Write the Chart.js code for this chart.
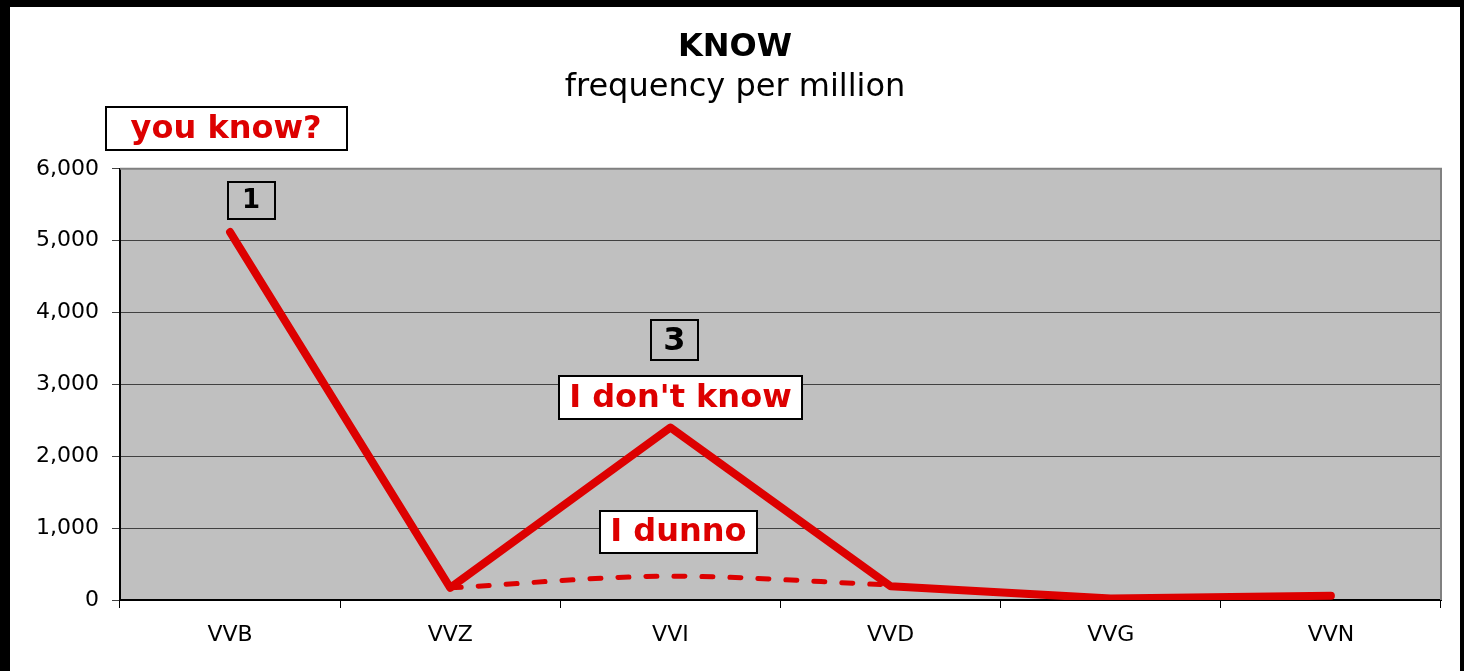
<!DOCTYPE html>
<html>
<head>
<meta charset="utf-8">
<script src="https://cdn.jsdelivr.net/npm/chart.js@4.4.1/dist/chart.umd.min.js"></script>
<style>
  html, body { margin: 0; padding: 0; background: #000; }
  #frame {
    position: absolute; left: 10px; top: 7px;
    width: 1450px; height: 664px; background: #fff;
  }
</style>
</head>
<body>
<div id="frame"><canvas id="knowChart" width="1450" height="664"></canvas></div>
<script>
// chart data
const categories = ['VVB', 'VVZ', 'VVI', 'VVD', 'VVG', 'VVN'];
const iDontKnow = [5120, 170, 2400, 190, 20, 60];
const iDunno = [null, 170, 330, 210, null, null];
const yTicks = [0, 1000, 2000, 3000, 4000, 5000, 6000];

// text boxes: anchored to a category and a value on the y scale
const notes = [
    { text: 'you know?', cat: 0, value: 6563, dx: -4, size: 32, color: '#dd0000', fill: '#ffffff', w: 241, h: 43 },
    { text: '1', cat: 0, value: 5556, dx: 21, size: 26, color: '#000000', fill: null, w: 47, h: 37 },
    { text: '3', cat: 2, value: 3611, dx: 4, size: 32, color: '#000000', fill: null, w: 47, h: 40 },
    { text: "I don't know", cat: 2, value: 2812, dx: 10, size: 32, color: '#dd0000', fill: '#ffffff', w: 243, h: 43 },
    { text: 'I dunno', cat: 2, value: 944, dx: 8, size: 32, color: '#dd0000', fill: '#ffffff', w: 157, h: 42 }
];

const FONT = "'DejaVu Sans', Verdana, sans-serif";

const plotBackground = {
    id: 'plotBackground',
    beforeDraw(chart) {
        const { ctx, chartArea: a } = chart;
        ctx.save();
        ctx.fillStyle = '#c0c0c0';
        ctx.fillRect(a.left, a.top, a.right - a.left, a.bottom - a.top);
        ctx.restore();
    },
    beforeDatasetsDraw(chart) {
        const { ctx, chartArea: a } = chart;
        ctx.save();
        ctx.strokeStyle = '#808080';
        ctx.lineWidth = 2;
        ctx.beginPath();
        ctx.moveTo(a.left, a.top);
        ctx.lineTo(a.right, a.top);
        ctx.lineTo(a.right, a.bottom);
        ctx.stroke();
        ctx.restore();
    }
};

const noteBoxes = {
    id: 'noteBoxes',
    afterDraw(chart) {
        const ctx = chart.ctx;
        const xs = chart.scales.x, ys = chart.scales.y;
        ctx.save();
        notes.forEach(n => {
            const cx = xs.getPixelForValue(n.cat) + n.dx;
            const cy = ys.getPixelForValue(n.value);
            const x0 = Math.round(cx - n.w / 2), y0 = Math.round(cy - n.h / 2);
            if (n.fill) {
                ctx.fillStyle = n.fill;
                ctx.fillRect(x0, y0, n.w, n.h);
            }
            ctx.strokeStyle = '#000';
            ctx.lineWidth = 2;
            ctx.strokeRect(x0, y0, n.w, n.h);
            ctx.fillStyle = n.color;
            ctx.font = 'bold ' + n.size + 'px ' + FONT;
            ctx.textAlign = 'center';
            ctx.textBaseline = 'middle';
            ctx.fillText(n.text, cx, cy + 1);
        });
        ctx.restore();
    }
};

new Chart(document.getElementById('knowChart'), {
    type: 'line',
    data: {
        labels: categories,
        datasets: [
            {
                label: "I don't know",
                data: iDontKnow,
                borderColor: '#dd0000',
                borderWidth: 8,
                borderCapStyle: 'round',
                borderJoinStyle: 'round',
                pointRadius: 0,
                tension: 0
            },
            {
                label: 'I dunno',
                data: iDunno,
                borderColor: '#dd0000',
                borderWidth: 5,
                borderDash: [11, 17],
                borderCapStyle: 'round',
                pointRadius: 0,
                spanGaps: false,
                cubicInterpolationMode: 'monotone',
                tension: 0.4
            }
        ]
    },
    options: {
        responsive: false,
        animation: false,
        devicePixelRatio: 1,
        layout: { padding: 0 },
        plugins: {
            legend: { display: false },
            tooltip: { enabled: false },
            title: {
                display: true,
                text: 'KNOW',
                color: '#000',
                font: { family: FONT, size: 32, weight: 'bold', lineHeight: 1.2 },
                padding: { top: 21, bottom: 0 }
            },
            subtitle: {
                display: true,
                text: 'frequency per million',
                color: '#000',
                font: { family: FONT, size: 32, lineHeight: 1.2 },
                padding: { top: 2, bottom: 62 }
            }
        },
        scales: {
            x: {
                type: 'category',
                offset: true,
                grid: { offset: true, drawOnChartArea: false, tickLength: 8, color: '#000', lineWidth: 1 },
                border: { color: '#000', width: 2 },
                ticks: { color: '#000', padding: 14, font: { family: FONT, size: 22 } },
                afterFit(scale) { scale.height = 71; }
            },
            y: {
                min: 0,
                max: 6000,
                afterBuildTicks(scale) { scale.ticks = yTicks.map(v => ({ value: v })); },
                grid: { color: '#404040', tickLength: 8, lineWidth: 1 },
                border: { color: '#000', width: 2 },
                ticks: {
                    color: '#000',
                    padding: 13,
                    font: { family: FONT, size: 22 },
                    callback: v => v.toLocaleString('en-US')
                },
                afterFit(scale) { scale.width = 110; }
            },
            // empty right-hand margin so the titles stay centred on the whole frame
            yRight: {
                position: 'right',
                min: 0,
                max: 6000,
                grid: { display: false },
                border: { display: false },
                ticks: { display: false },
                afterFit(scale) { scale.width = 19; }
            }
        }
    },
    plugins: [plotBackground, noteBoxes]
});
</script>
</body>
</html>
